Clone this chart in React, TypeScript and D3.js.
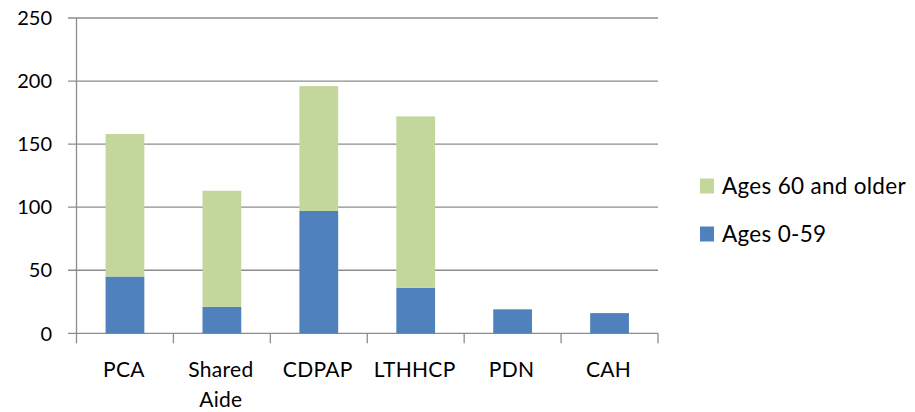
import React from "react";
import * as d3 from "d3";

const categories = ["PCA", "Shared Aide", "CDPAP", "LTHHCP", "PDN", "CAH"];
const ages0to59 = [45, 21, 97, 36, 19, 16];
const ages60plus = [113, 92, 99, 136, 0, 0];
const seriesNames = ["Ages 0-59", "Ages 60 and older"];
const seriesColors = ["#4F81BD", "#C3D69B"];
const yTicks = [0, 50, 100, 150, 200, 250];

const W = 915, H = 412;
const left = 76.5, right = 658, top = 18, bottom = 333.3;
const FONT = "Lato, 'Open Sans', sans-serif";

export default function App() {
  const x = d3.scaleBand<string>().domain(categories).range([left, right]).paddingInner(0.6).paddingOuter(0.3);
  const xb = d3.scaleBand<string>().domain(categories).range([left, right]);
  const y = d3.scaleLinear().domain([0, 250]).range([bottom, top]);
  const rows = categories.map((c, i) => ({ c, a: ages0to59[i], b: ages60plus[i] }));
  const stacked = d3.stack<any>().keys(["a", "b"])(rows);
  const grid = "#8C8C8C";
  return (
    <svg width={W} height={H} style={{ position: "absolute", left: 0, top: 0, background: "#fff" }}>
      {yTicks.map((t) => (
        <g key={t}>
          <line x1={68} x2={right} y1={y(t)} y2={y(t)} stroke={grid} strokeWidth={1.3} />
          <text x={52} y={y(t)} dy="0.36em" textAnchor="end" fontFamily={FONT} fontSize={20} fill="#000">{t}</text>
        </g>
      ))}
      <line x1={left} x2={left} y1={top} y2={bottom} stroke={grid} strokeWidth={1.3} />
      {categories.map((c) => (
        <line key={"t" + c} x1={xb(c)!} x2={xb(c)!} y1={bottom} y2={bottom + 10} stroke={grid} strokeWidth={1.3} />
      ))}
      <line x1={right} x2={right} y1={bottom} y2={bottom + 10} stroke={grid} strokeWidth={1.3} />
      {stacked.map((s, si) => (
        <g key={si} fill={seriesColors[si]}>
          {s.map((d, i) => (d[1] - d[0] > 0 ? (
            <rect key={i} x={x(categories[i])!} width={x.bandwidth()} y={y(d[1])} height={y(d[0]) - y(d[1])} />
          ) : null))}
        </g>
      ))}
      {categories.map((c) => {
        const parts = c.split(" ");
        const cx = xb(c)! + xb.bandwidth() / 2 - 1;
        return (
          <text key={"l" + c} x={cx} y={377} textAnchor="middle" fontFamily={FONT} fontSize={21} letterSpacing={0.3} fill="#000">
            {parts.map((p, j) => (
              <tspan key={j} x={cx} dy={j === 0 ? 0 : 30}>{p}</tspan>
            ))}
          </text>
        );
      })}
      {[1, 0].map((si, k) => (
        <g key={"lg" + si} transform={`translate(700, ${186 + k * 48})`}>
          <rect x={0} y={-7.5} width={14} height={15} fill={seriesColors[si]} />
          <text x={22} y={0} dy="0.36em" fontFamily={FONT} fontSize={22.5} letterSpacing={0.3} fill="#000">{seriesNames[si]}</text>
        </g>
      ))}
    </svg>
  );
}
